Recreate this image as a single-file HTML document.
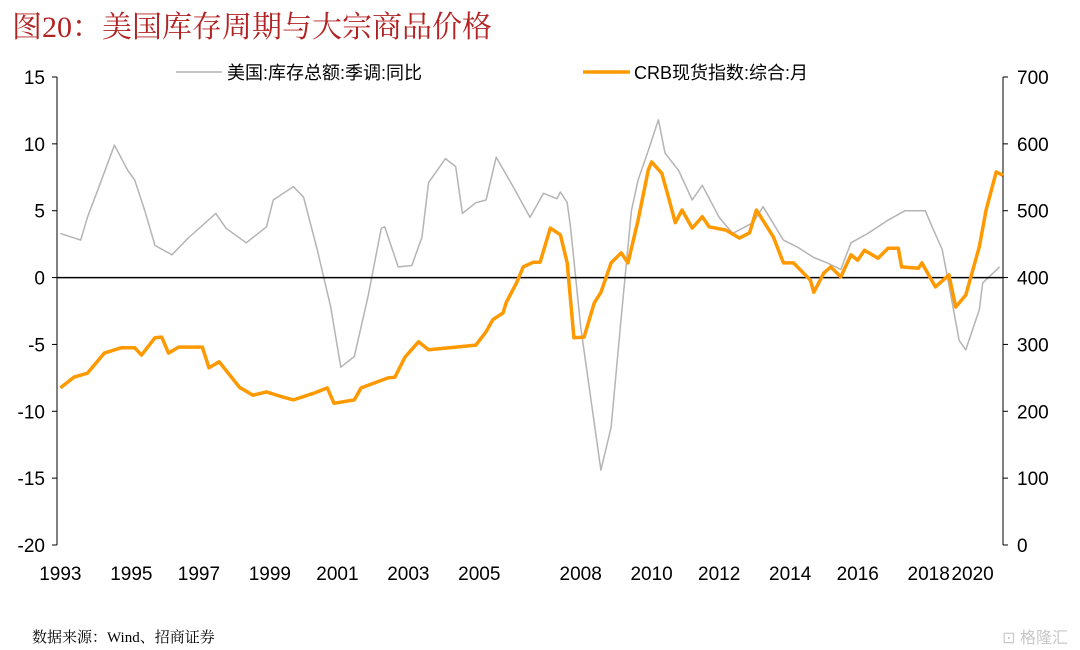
<!DOCTYPE html>
<html><head><meta charset="utf-8">
<style>
html,body{margin:0;padding:0;background:#fff;}
body{width:1080px;height:650px;overflow:hidden;position:relative;font-family:"Liberation Sans","Noto Sans CJK SC",sans-serif;}
#title{position:absolute;left:12px;top:2px;font-family:"Liberation Serif","Noto Serif CJK SC",serif;font-size:30px;color:#B22222;}
#src{position:absolute;left:32px;top:626px;font-size:15px;color:#000;font-family:"Liberation Serif","Noto Serif CJK SC",serif;}
#wm{position:absolute;right:12px;top:624px;font-size:16px;color:#c8c8c8;}
</style></head><body>
<div id="title">图20：美国库存周期与大宗商品价格</div>
<svg id="chart" width="1080" height="650" style="position:absolute;left:0;top:0"></svg>
<div id="src">数据来源：Wind、招商证券</div>
<div id="wm">⊡ 格隆汇</div>
<script>
const grayDates=[1993.1,1993.7,1993.9,1994.2,1994.7,1995.1,1995.3,1995.6,1995.9,1996.4,1996.9,1997.7,1998.0,1998.6,1999.2,1999.4,2000.0,2000.3,2000.7,2001.1,2001.4,2001.8,2002.2,2002.6,2002.7,2003.1,2003.5,2003.8,2004.0,2004.5,2004.8,2005.0,2005.4,2005.7,2006.0,2006.5,2007.0,2007.4,2007.8,2007.9,2008.1,2008.2,2008.5,2009.1,2009.4,2009.7,2010.0,2010.2,2010.5,2010.8,2011.0,2011.4,2011.8,2012.1,2012.6,2013.0,2013.6,2013.9,2014.5,2014.9,2015.4,2015.8,2016.2,2016.5,2017.0,2017.6,2018.1,2018.7,2018.9,2019.2,2019.5,2019.7,2019.9,2020.3,2020.4,2020.9];
const grayValues=[3.3,2.8,4.5,6.5,9.9,8.0,7.3,5.0,2.4,1.7,3.0,4.8,3.7,2.6,3.8,5.8,6.8,6.0,2.1,-2.2,-6.7,-5.9,-1.5,3.7,3.8,0.8,0.9,3.0,7.1,8.9,8.3,4.8,5.6,5.8,9.0,6.8,4.5,6.3,5.9,6.4,5.6,3.8,-3.7,-14.4,-11.2,-3.0,5.0,7.3,9.5,11.8,9.3,8.0,5.8,6.9,4.5,3.3,4.1,5.3,2.8,2.3,1.5,1.1,0.6,2.6,3.3,4.3,5.0,5.0,3.8,2.1,-1.9,-4.7,-5.4,-2.4,-0.4,0.8];
const crbDates=[1993.1,1993.5,1993.9,1994.4,1994.9,1995.3,1995.5,1995.9,1996.1,1996.3,1996.6,1997.3,1997.5,1997.8,1998.4,1998.8,1999.2,1999.7,2000.0,2000.6,2001.0,2001.2,2001.8,2002.0,2002.8,2003.0,2003.3,2003.7,2004.0,2004.8,2005.4,2005.7,2005.9,2006.2,2006.3,2006.6,2006.8,2007.1,2007.3,2007.6,2007.9,2008.1,2008.3,2008.6,2008.9,2009.1,2009.4,2009.7,2009.9,2010.2,2010.5,2010.6,2010.9,2011.1,2011.3,2011.5,2011.8,2012.1,2012.3,2012.8,2013.2,2013.5,2013.7,2014.2,2014.5,2014.8,2015.3,2015.4,2015.7,2015.9,2016.2,2016.5,2016.7,2016.9,2017.3,2017.6,2017.9,2018.0,2018.5,2018.6,2019.0,2019.4,2019.6,2019.9,2020.3,2020.5,2020.8,2021.0];
const crbValues=[235,251,257,287,295,295,284,310,311,287,296,296,265,274,236,224,229,221,217,227,235,212,217,235,250,251,281,304,292,296,299,319,337,347,363,392,416,423,423,474,464,422,310,311,362,378,422,437,422,486,561,573,556,520,482,501,474,491,476,471,459,467,501,461,422,422,396,378,407,416,401,434,426,441,429,444,444,416,414,422,386,404,356,374,446,501,558,553];
const leftTicks=[15,10,5,0,-5,-10,-15,-20];
const rightTicks=[700,600,500,400,300,200,100,0];
const xLabels=["1993","1995","1997","1999","2001","2003","2005","2008","2010","2012","2014","2016","2018","2020"];
const xLabelYears=[1993.1,1995.2,1997.2,1999.3,2001.3,2003.4,2005.5,2008.5,2010.6,2012.6,2014.7,2016.7,2018.8,2020.1];

const L=57,R=1003,T=77,B=545;
const x=t=>L+(t-1993)*(R-L)/28;
const yL=v=>T+(15-v)*(B-T)/35;
const yR=v=>T+(700-v)*(B-T)/700;
const NS="http://www.w3.org/2000/svg";
const svg=document.getElementById('chart');
function mk(tag,attrs){const e=document.createElementNS(NS,tag);for(const k in attrs)e.setAttribute(k,attrs[k]);svg.appendChild(e);return e;}

let a=mk('line',{x1:L,y1:T,x2:L,y2:B,stroke:'#000','stroke-width':1});


a=mk('line',{x1:R,y1:T,x2:R,y2:B,stroke:'#000','stroke-width':1});


leftTicks.forEach(v=>{
  const tk=mk('line',{x1:L-5,y1:yL(v),x2:L,y2:yL(v),stroke:'#000'});
  
  
  const tx=mk('text',{x:L-12,y:yL(v)+7,'text-anchor':'end','font-size':19,fill:'#000'});
  tx.textContent=v;
  
  
});
rightTicks.forEach(v=>{
  const tk=mk('line',{x1:R,y1:yR(v),x2:R+5,y2:yR(v),stroke:'#000'});
  
  
  const tx=mk('text',{x:R+14,y:yR(v)+7,'text-anchor':'start','font-size':19,fill:'#000'});
  tx.textContent=v;
  
  
});
xLabels.forEach((s,i)=>{
  const tx=mk('text',{x:x(xLabelYears[i]),y:580,'text-anchor':'middle','font-size':19,fill:'#000'});
  tx.textContent=s;
  
  
});
const gp=grayDates.map((t,i)=>x(t).toFixed(1)+','+yL(grayValues[i]).toFixed(1)).join(' ');
const g=mk('polyline',{points:gp,fill:'none',stroke:'#b4b4b4','stroke-width':1.5,'stroke-linejoin':'round'});


const z=mk('line',{x1:L,y1:yL(0),x2:R,y2:yL(0),stroke:'#000','stroke-width':1.5});


const op=crbDates.map((t,i)=>x(t).toFixed(1)+','+yR(crbValues[i]).toFixed(1)).join(' ');
const o=mk('polyline',{points:op,fill:'none',stroke:'#FF9900','stroke-width':3.5,'stroke-linejoin':'round'});


let lg=mk('line',{x1:176,y1:72,x2:222,y2:72,stroke:'#b4b4b4','stroke-width':1.5});


let lt=mk('text',{x:227,y:79,'font-size':18,fill:'#000'});
lt.textContent='美国:库存总额:季调:同比';


lg=mk('line',{x1:583,y1:72,x2:630,y2:72,stroke:'#FF9900','stroke-width':3.5});


lt=mk('text',{x:634,y:79,'font-size':18,fill:'#000'});
lt.textContent='CRB现货指数:综合:月';


</script>
</body></html>
